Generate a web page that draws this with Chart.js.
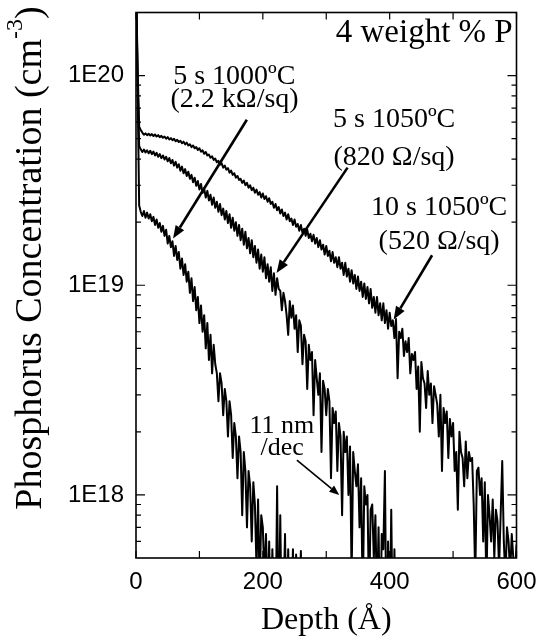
<!DOCTYPE html>
<html>
<head>
<meta charset="utf-8">
<script src="https://cdn.jsdelivr.net/npm/chart.js@4/dist/chart.umd.min.js"></script>
<style>
  html, body { margin: 0; padding: 0; background: #fff; }
  #wrap { width: 540px; height: 640px; }
</style>
</head>
<body>
<div id="wrap"><canvas id="sims" width="540" height="640"></canvas></div>
<script>
// SIMS depth profiles; depth in Å, concentrations in units of 1E18 cm^-3
const depth = [
  0, 2.5, 5, 7.5, 10, 12.5, 15, 17.5, 20, 22.5,
  25, 27.5, 30, 32.5, 35, 37.5, 40, 42.5, 45, 47.5,
  50, 52.5, 55, 57.5, 60, 62.5, 65, 67.5, 70, 72.5,
  75, 77.5, 80, 82.5, 85, 87.5, 90, 92.5, 95, 97.5,
  100, 102.5, 105, 107.5, 110, 112.5, 115, 117.5, 120, 122.5,
  125, 127.5, 130, 132.5, 135, 137.5, 140, 142.5, 145, 147.5,
  150, 152.5, 155, 157.5, 160, 162.5, 165, 167.5, 170, 172.5,
  175, 177.5, 180, 182.5, 185, 187.5, 190, 192.5, 195, 197.5,
  200, 202.5, 205, 207.5, 210, 212.5, 215, 217.5, 220, 222.5,
  225, 227.5, 230, 232.5, 235, 237.5, 240, 242.5, 245, 247.5,
  250, 252.5, 255, 257.5, 260, 262.5, 265, 267.5, 270, 272.5,
  275, 277.5, 280, 282.5, 285, 287.5, 290, 292.5, 295, 297.5,
  300, 302.5, 305, 307.5, 310, 312.5, 315, 317.5, 320, 322.5,
  325, 327.5, 330, 332.5, 335, 337.5, 340, 342.5, 345, 347.5,
  350, 352.5, 355, 357.5, 360, 362.5, 365, 367.5, 370, 372.5,
  375, 377.5, 380, 382.5, 385, 387.5, 390, 392.5, 395, 397.5,
  400, 402.5, 405, 407.5, 410, 412.5, 415, 417.5, 420, 422.5,
  425, 427.5, 430, 432.5, 435, 437.5, 440, 442.5, 445, 447.5,
  450, 452.5, 455, 457.5, 460, 462.5, 465, 467.5, 470, 472.5,
  475, 477.5, 480, 482.5, 485, 487.5, 490, 492.5, 495, 497.5,
  500, 502.5, 505, 507.5, 510, 512.5, 515, 517.5, 520, 522.5,
  525, 527.5, 530, 532.5, 535, 537.5, 540, 542.5, 545, 547.5,
  550, 552.5, 555, 557.5, 560, 562.5, 565, 567.5, 570, 572.5,
  575, 577.5, 580, 582.5, 585, 587.5, 590, 592.5, 595, 597.5,
  600
];

// 10 s 1050ºC (520 Ω/sq)
const conc10s1050 = [
  300, 110, 57, 55, 53.5, 52.2, 53, 52, 52.8, 51.8,
  52.6, 51.5, 52.4, 51.2, 52, 50.8, 51.6, 50.5, 51.2, 50,
  50.9, 49.6, 50.3, 49.2, 49.9, 48.6, 49.4, 48.2, 48.9, 47.6,
  48.4, 47, 47.9, 46.4, 47, 45.6, 46.4, 45, 45.6, 44.2,
  45, 43.4, 44, 42.4, 43.2, 41.6, 42, 40.6, 41.2, 39.6,
  40.2, 38.6, 39.2, 37.6, 38.2, 36.4, 37.2, 35.6, 36.2, 34.4,
  35.2, 33.6, 34.2, 32.6, 33.2, 31.8, 32.2, 30.8, 31.6, 30,
  30.8, 29.2, 30, 28.4, 29.2, 27.6, 28.6, 27, 27.8, 26.2,
  27.4, 25.8, 26.6, 25, 26, 24.4, 25, 23.4, 24.4, 22.8,
  23.6, 22, 23, 21.4, 22.2, 20.6, 21.8, 20.2, 20.8, 19.4,
  20.6, 19, 19.6, 18.2, 19.4, 17.8, 18.6, 17.2, 18.4, 16.8,
  17.6, 16.2, 17.4, 15.8, 16.8, 15.2, 16.4, 14.8, 15.6, 14,
  15.4, 13.8, 14.6, 13, 14.4, 12.8, 13.6, 12.2, 13.6, 12,
  12.8, 11.2, 12.8, 11, 12, 10.4, 11.8, 10.2, 11.2, 9.6,
  11, 9.4, 10.4, 8.8, 10.2, 8.6, 9.8, 8.2, 9.6, 7.8,
  8.8, 7.4, 8.8, 7.2, 8.2, 6.8, 8.2, 6.6, 7.6, 6.2,
  7.4, 6.4, 6.8, 5.6, 6.9, 3.6, 6.0, 5.6, 6.2, 4.6,
  5.4, 4.8, 5.6, 3.8, 4.7, 4.4, 4.8, 3.2, 4.1, 2.0,
  4.3, 3.6, 3.4, 2.6, 3.9, 3.0, 3.4, 2.2, 3.3, 3.0,
  2.7, 1.9, 3.0, 1.3, 2.6, 2.2, 2.5, 1.5, 2.3, 1.9,
  2.2, 1.3, 1.6, 0.85, 2.0, 1.6, 1.5, 1.1, 1.8, 1.2,
  1.6, 1.45, 1.5, 0.9, 0.4, 1.3, 1.35, 1.0, 1.2, 0.6,
  1.15, 0.35, 1.0, 0.8, 0.6, 0.95, 0.5, 0.85, 0.75, 0.45,
  0.8, 1.45, 0.6, 0.4, 0.7, 0.6, 0.42, 0.65, 0.5, 0.4,
  0.58
];

// 5 s 1050ºC (820 Ω/sq)
const conc5s1050 = [
  300, 100, 46, 44.5, 43.2, 44.4, 43, 44, 42.6, 43.8,
  42.2, 43.4, 41.6, 42.8, 41, 42.2, 40.4, 41.6, 39.8, 41,
  39, 40.4, 38.2, 39.6, 37.2, 38.8, 36.4, 37.8, 35.2, 36.8,
  34.2, 35.8, 33.2, 34.8, 32.2, 33.6, 31, 32.6, 29.8, 31.4,
  28.6, 30.4, 27.6, 29, 26.2, 28.2, 25.4, 27, 24.2, 26.2,
  23.4, 25, 22.4, 24.4, 21.6, 23.2, 20.6, 22.6, 19.8, 21.8,
  18.8, 21, 18.2, 20, 17.2, 19.4, 16.4, 18.6, 15.6, 18,
  15, 16.8, 14.2, 16.4, 13.6, 15.4, 12.8, 14.8, 12, 14,
  11.6, 13.6, 10.8, 12.6, 10.4, 12.2, 9.4, 11.4, 9, 10.8,
  9.6, 9.4, 7.6, 9.2, 8.4, 7.2, 5.8, 8.4, 7.0, 8.0,
  6.2, 7.2, 4.8, 6.8, 6.4, 4.2, 5.8, 5.4, 3.2, 5.2,
  4.4, 4.8, 2.4, 4.4, 3.6, 3.0, 3.8, 1.6, 3.5, 3.2,
  2.4, 3.2, 2.8, 1.2, 2.6, 2.2, 2.5, 1.3, 2.2, 1.9,
  0.8, 2.0, 1.6, 1.9, 1.0, 1.7, 0.4, 1.6, 1.3, 1.1,
  1.4, 0.7, 1.2, 0.3, 1.1, 0.9, 1.0, 0.3, 0.85, 0.9,
  0.5, 0.8, 0.3, 0.7, 0.2, 0.65, 0.55, 1.3, 0.2, 0.6,
  0.2, 0.85, 0.2, 0.55, 0.2
];

// 5 s 1000ºC (2.2 kΩ/sq)
const conc5s1000 = [
  300, 90, 24, 22.4, 21.4, 22.6, 21, 22.2, 20.8, 21.8,
  20.2, 21.2, 19.4, 20.6, 18.8, 19.8, 18, 19.2, 17.2, 18.4,
  15.8, 17.2, 15.2, 16.2, 13.8, 15.4, 13.2, 14.4, 12, 13.4,
  11.2, 12.6, 10.4, 11.6, 9.2, 10.8, 8.4, 9.8, 7.6, 8.8,
  6.6, 8.0, 6.0, 7.2, 5.0, 6.6, 4.4, 5.8, 3.8, 5.2,
  4.2, 3.8, 2.8, 3.8, 3.4, 2.4, 3.2, 2.8, 1.9, 2.8,
  2.4, 1.5, 2.2, 1.9, 1.2, 1.9, 1.6, 0.8, 1.6, 1.3,
  0.7, 1.3, 1.1, 0.6, 1.15, 0.9, 0.45, 0.95, 0.35, 0.8,
  0.7, 0.4, 0.65, 0.3, 0.6, 0.2, 0.55, 0.3, 0.2, 1.1,
  0.2, 0.8, 0.2, 0.3, 0.65, 0.2, 0.55, 0.2, 0.3, 0.55,
  0.2, 0.52, 0.2, 0.3, 0.54, 0.2, 0.3, 0.2, 0.2
];

const xLabels = [0, 200, 400, 600];
const yMajor = [1e18, 1e19, 1e20];
const yMinor = [
  6e17, 7e17, 8e17, 9e17,
  2e18, 3e18, 4e18, 5e18, 6e18, 7e18, 8e18, 9e18,
  2e19, 3e19, 4e19, 5e19, 6e19, 7e19, 8e19, 9e19
];

const UNIT = 1e18;
const SERIF = "'Liberation Serif', 'Times New Roman', serif";
const SANS = "'Liberation Sans', Arial, Helvetica, sans-serif";

function points(conc) {
  return conc.map((c, i) => ({ x: depth[i], y: c * UNIT }));
}

// text labels and arrows, placed in data coordinates (depth, concentration)
const notes = [
  { text: '4 weight % P', x: 594, y: 1.45e20, size: 33, align: 'right' },
  { text: '5 s 1000ºC', x: 155, y: 9.16e19, size: 28 },
  { text: '(2.2 kΩ/sq)', x: 155.5, y: 7.11e19, size: 28 },
  { text: '5 s 1050ºC', x: 407, y: 5.7e19, size: 28 },
  { text: '(820 Ω/sq)', x: 407, y: 3.75e19, size: 28 },
  { text: '10 s 1050ºC', x: 478, y: 2.16e19, size: 28 },
  { text: '(520 Ω/sq)', x: 478, y: 1.49e19, size: 28 },
  { text: '11 nm', x: 230, y: 1.98e18, size: 26 },
  { text: '/dec', x: 230.5, y: 1.55e18, size: 26 }
];

const arrows = [
  { from: [174.8, 6.16e19], to: [58.4, 1.67e19], width: 2.6, head: 13, half: 5 },
  { from: [333.6, 3.64e19], to: [221.6, 1.145e19], width: 2.6, head: 13, half: 5 },
  { from: [466.9, 1.39e19], to: [406.3, 6.86e18], width: 2.6, head: 13, half: 5 },
  { from: [253.7, 1.466e18], to: [320.5, 1.0e18], width: 1.6, head: 10, half: 4 }
];

function drawArrow(ctx, x0, y0, x1, y1, a) {
  const ang = Math.atan2(y1 - y0, x1 - x0);
  const bx = x1 - a.head * Math.cos(ang);
  const by = y1 - a.head * Math.sin(ang);
  ctx.lineWidth = a.width;
  ctx.beginPath();
  ctx.moveTo(x0, y0);
  ctx.lineTo(bx, by);
  ctx.stroke();
  ctx.beginPath();
  ctx.moveTo(x1, y1);
  ctx.lineTo(bx + a.half * Math.sin(ang), by - a.half * Math.cos(ang));
  ctx.lineTo(bx - a.half * Math.sin(ang), by + a.half * Math.cos(ang));
  ctx.closePath();
  ctx.fill();
}

function drawYTitle(ctx, cx, cy) {
  const main = 'Phosphorus Concentration (cm';
  ctx.font = '38px ' + SERIF;
  const w1 = ctx.measureText(main).width;
  const w3 = ctx.measureText(')').width;
  ctx.font = '24px ' + SERIF;
  const w2 = ctx.measureText('-3').width;
  ctx.save();
  ctx.translate(cx, cy);
  ctx.rotate(-Math.PI / 2);
  ctx.textAlign = 'left';
  ctx.textBaseline = 'alphabetic';
  let pos = -(w1 + w2 + w3) / 2;
  ctx.font = '38px ' + SERIF;
  ctx.fillText(main, pos, 0);
  pos += w1;
  ctx.font = '24px ' + SERIF;
  ctx.fillText('-3', pos, -19);
  pos += w2;
  ctx.font = '38px ' + SERIF;
  ctx.fillText(')', pos, 0);
  ctx.restore();
}

const decor = {
  id: 'decor',
  afterDraw(chart) {
    const { ctx, chartArea: a, scales: { x, y } } = chart;
    ctx.save();
    ctx.strokeStyle = '#000';
    ctx.fillStyle = '#000';

    // frame and inward tick marks on all four sides
    ctx.lineWidth = 1.6;
    ctx.strokeRect(a.left, a.top, a.right - a.left, a.bottom - a.top);
    ctx.lineWidth = 1.2;
    ctx.beginPath();
    x.ticks.forEach(t => {
      const px = x.getPixelForValue(t.value);
      ctx.moveTo(px, a.bottom); ctx.lineTo(px, a.bottom - 7);
      ctx.moveTo(px, a.top); ctx.lineTo(px, a.top + 7);
    });
    yMajor.forEach(v => {
      const py = y.getPixelForValue(v);
      ctx.moveTo(a.left, py); ctx.lineTo(a.left + 9, py);
      ctx.moveTo(a.right, py); ctx.lineTo(a.right - 9, py);
    });
    yMinor.forEach(v => {
      const py = y.getPixelForValue(v);
      ctx.moveTo(a.left, py); ctx.lineTo(a.left + 5, py);
      ctx.moveTo(a.right, py); ctx.lineTo(a.right - 5, py);
    });
    ctx.stroke();

    drawYTitle(ctx, 41, 258);

    ctx.textBaseline = 'alphabetic';
    notes.forEach(n => {
      ctx.font = n.size + 'px ' + SERIF;
      ctx.textAlign = n.align || 'center';
      ctx.fillText(n.text, x.getPixelForValue(n.x), y.getPixelForValue(n.y));
    });

    arrows.forEach(ar => {
      drawArrow(ctx,
        x.getPixelForValue(ar.from[0]), y.getPixelForValue(ar.from[1]),
        x.getPixelForValue(ar.to[0]), y.getPixelForValue(ar.to[1]), ar);
    });
    ctx.restore();
  }
};

function series(label, conc) {
  return {
    label: label,
    data: points(conc),
    borderColor: '#000',
    borderWidth: 2,
    borderJoinStyle: 'round',
    pointRadius: 0,
    tension: 0,
    fill: false,
    clip: 0
  };
}

new Chart(document.getElementById('sims'), {
  type: 'line',
  data: {
    datasets: [
      series('10 s 1050ºC', conc10s1050),
      series('5 s 1050ºC', conc5s1050),
      series('5 s 1000ºC', conc5s1000)
    ]
  },
  options: {
    responsive: false,
    devicePixelRatio: 1,
    animation: false,
    layout: { padding: { top: 12.5, right: 23.5, bottom: 0, left: 0 } },
    plugins: {
      legend: { display: false },
      tooltip: { enabled: false }
    },
    scales: {
      x: {
        type: 'linear',
        min: 0,
        max: 600,
        grid: { display: false, drawTicks: false },
        border: { display: false },
        ticks: {
          stepSize: 100,
          autoSkip: false,
          maxRotation: 0,
          padding: 10,
          color: '#000',
          font: { family: SANS, size: 24 },
          callback: v => xLabels.includes(v) ? String(v) : ''
        },
        title: {
          display: true,
          text: 'Depth (Å)',
          color: '#000',
          font: { family: SERIF, size: 32 },
          padding: { top: 0, bottom: 0 }
        },
        afterFit: s => { s.height = 82; s.paddingLeft = 0; s.paddingRight = 0; }
      },
      y: {
        type: 'logarithmic',
        min: 5e17,
        max: 2e20,
        grid: { display: false, drawTicks: false },
        border: { display: false },
        afterBuildTicks: s => { s.ticks = yMajor.map(v => ({ value: v })); },
        ticks: {
          autoSkip: false,
          padding: 12,
          color: '#000',
          font: { family: SANS, size: 24 },
          callback: v => '1E' + Math.round(Math.log10(v))
        },
        afterFit: s => { s.width = 136; s.paddingTop = 0; s.paddingBottom = 0; }
      }
    }
  },
  plugins: [decor]
});
</script>
</body>
</html>
